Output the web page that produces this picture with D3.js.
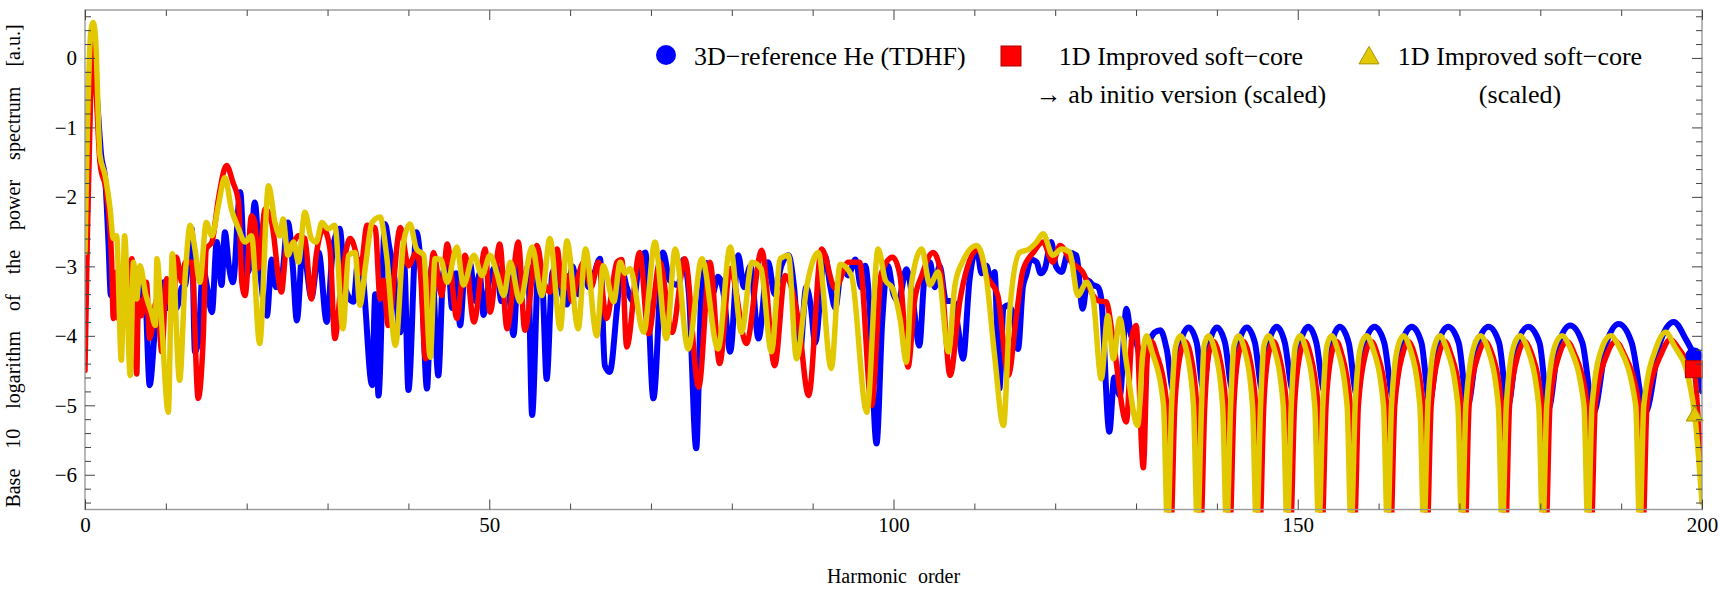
<!DOCTYPE html>
<html><head><meta charset="utf-8">
<script src="https://cdn.jsdelivr.net/npm/d3@7"></script>
<style>
body{margin:0;background:#fff;}
text{font-family:"Liberation Serif","Times New Roman",serif;fill:#000;}
</style>
</head><body>
<svg id="chart" width="1720" height="589"></svg>
<script>
// ---------- data ----------
const xMajorTicks = [0, 50, 100, 150, 200];
const xMinorTicks = [10,20,30,40,60,70,80,90,110,120,130,140,160,170,180,190];
const yMajorTicks = [-6, -5, -4, -3, -2, -1, 0];
const yMinorTicks = [-6.4,-6.2,-5.8,-5.6,-5.4,-5.2,-4.8,-4.6,-4.4,-4.2,-3.8,-3.6,-3.4,-3.2,-2.8,-2.6,-2.4,-2.2,-1.8,-1.6,-1.4,-1.2,-0.8,-0.6,-0.4,-0.2,0.2,0.4,0.6];

const seriesNames = ["3D\u2212reference He (TDHF)", "1D Improved soft\u2212core", "1D Improved soft\u2212core"];
const seriesSubNames = ["", "\u2192 ab initio version (scaled)", "(scaled)"];

// [harmonic order, log10 power]
const blueData = [
[0,-3.6],[0.5,-1.0],[1.0,0.12],[1.5,-0.6],[2.0,-1.4],[2.5,-1.75],[2.9,-2.65],[3.2,-3.42],[3.5,-3.3],[4.0,-3.6],[4.5,-3.03],[5.0,-3.5],[5.4,-3.27],[6.0,-3.6],[6.6,-3.2],[7.0,-3.5],[7.4,-3.37],[8.0,-4.71],[8.7,-3.85],[9.2,-3.5],[9.7,-3.23],[10.2,-3.6],[10.7,-3.25],[11.3,-3.6],[12.0,-3.3],[12.4,-3.27],[13.2,-2.46],[13.6,-4.23],[14.0,-4.1],[14.6,-3.03],[15.1,-3.3],[15.7,-3.66],[16.3,-2.65],[16.9,-3.27],[17.3,-2.51],[17.8,-3.0],[18.3,-3.23],[19.2,-1.93],[19.8,-3.13],[20.4,-3.0],[21.0,-2.08],[21.6,-2.99],[22.5,-3.71],[23.1,-2.9],[23.6,-3.3],[24.3,-3.2],[25.1,-2.37],[25.7,-3.0],[26.2,-3.78],[27.0,-2.6],[27.5,-3.1],[28.0,-3.45],[28.9,-2.8],[29.9,-3.8],[30.7,-2.7],[31.5,-2.46],[32.2,-3.32],[33.2,-3.51],[33.8,-2.9],[34.4,-3.2],[35.5,-4.71],[35.9,-3.4],[36.3,-4.86],[37.1,-2.39],[37.6,-2.7],[38.2,-3.1],[39.0,-3.95],[39.5,-3.0],[40.0,-4.78],[41.0,-2.51],[41.6,-3.1],[42.3,-4.76],[42.9,-3.0],[43.7,-4.57],[44.3,-3.1],[44.9,-2.9],[45.4,-3.6],[45.9,-3.1],[46.4,-3.85],[47.0,-3.0],[47.6,-2.95],[48.3,-3.5],[48.8,-3.1],[49.3,-3.7],[50.0,-3.2],[50.9,-3.0],[51.5,-3.5],[52.2,-3.1],[53.0,-3.99],[53.6,-3.0],[54.2,-3.3],[54.8,-3.0],[55.3,-5.14],[56.1,-2.97],[56.6,-3.3],[57.1,-4.62],[57.8,-3.1],[58.4,-3.0],[59.0,-3.4],[59.6,-3.55],[60.3,-3.0],[61.0,-3.4],[61.7,-3.08],[62.3,-3.3],[63.0,-3.1],[63.7,-2.89],[64.3,-4.43],[64.9,-4.52],[65.8,-3.6],[66.3,-3.0],[67.0,-3.3],[67.8,-3.5],[68.5,-3.0],[69.3,-2.8],[70.3,-4.9],[71.5,-2.8],[72.3,-3.2],[73.4,-3.27],[74.0,-2.9],[74.7,-3.4],[75.6,-5.62],[76.2,-3.5],[76.9,-2.95],[77.6,-3.4],[78.3,-3.15],[79.0,-3.4],[79.8,-4.23],[80.8,-2.84],[81.5,-3.3],[82.3,-3.0],[83.3,-4.04],[84.5,-2.94],[85.3,-3.4],[86.1,-3.0],[87.0,-2.84],[87.7,-3.3],[88.4,-4.28],[89.2,-3.3],[89.8,-3.6],[90.3,-4.1],[91.5,-2.84],[92.2,-3.3],[92.8,-3.6],[93.6,-3.0],[94.4,-3.13],[95.3,-2.9],[96.0,-3.3],[96.5,-2.99],[97.0,-3.5],[97.9,-5.55],[98.6,-3.8],[99.3,-2.99],[100.0,-3.4],[100.6,-3.5],[101.6,-3.04],[102.4,-3.5],[103.2,-4.14],[103.8,-3.2],[104.5,-2.94],[105.1,-3.3],[105.7,-2.99],[106.5,-3.5],[107.4,-3.5],[108.0,-3.9],[108.6,-4.33],[109.4,-3.2],[110.3,-2.75],[110.9,-3.1],[111.5,-2.99],[112.0,-3.2],[112.5,-3.08],[113.1,-4.76],[113.6,-3.6],[114.2,-3.56],[114.8,-3.7],[115.4,-4.19],[116.0,-3.3],[116.4,-3.13],[117.0,-2.9],[117.7,-2.94],[118.2,-3.1],[118.7,-3.04],[119.5,-2.65],[120.1,-3.0],[120.8,-3.08],[121.6,-2.8],[122.6,-2.84],[123.4,-3.61],[124.0,-3.2],[124.7,-3.27],[125.3,-3.3],[125.7,-3.47],[126.7,-5.38],[127.3,-4.6],[128.0,-4.86],[128.8,-3.61],[129.4,-4.0],[130.0,-4.09],[130.6,-4.3],
[131.5,-4.1],[132.3,-3.95],[133.0,-3.92],[133.8,-4.2],[134.6,-4.78],[135.4,-4.15],[136.5,-3.88],[137.5,-4.1],[138.3,-4.75],[139.1,-4.1],[140.0,-3.88],[141.0,-4.1],[141.9,-4.76],[142.7,-4.1],[143.7,-3.88],[144.7,-4.1],[145.6,-4.77],[146.4,-4.1],[147.4,-3.87],[148.4,-4.1],[149.4,-4.78],[150.3,-4.1],[151.3,-3.87],[152.3,-4.1],[153.3,-4.8],[154.2,-4.1],[155.2,-3.87],[156.3,-4.1],[157.3,-4.85],[158.3,-4.1],[159.5,-3.87],[160.7,-4.1],[161.8,-4.9],[162.9,-4.1],[164.1,-3.87],[165.3,-4.1],[166.3,-4.95],[167.4,-4.1],[168.6,-3.87],[169.9,-4.1],[171.0,-5.0],[172.3,-4.1],[173.6,-3.87],[174.9,-4.1],[176.0,-5.0],[177.2,-4.1],[178.5,-3.87],[179.9,-4.1],[181.0,-5.05],[182.3,-4.1],[183.7,-3.85],[185.2,-4.1],[186.6,-5.1],[188.2,-4.1],[189.7,-3.83],[191.3,-4.1],[193.0,-5.1],[194.8,-4.1],[196.5,-3.8],[198.0,-4.05],[199.0,-4.29],[200,-4.8]
];

const redData = [
[0,-4.5],[0.3,-2.5],[0.7,-0.5],[1.0,0.2],[1.3,-0.3],[1.85,-1.5],[2.7,-1.98],[3.3,-2.94],[3.5,-3.75],[3.9,-3.08],[4.1,-3.75],[4.6,-3.3],[5.0,-3.6],[5.8,-2.89],[6.4,-4.55],[6.6,-3.47],[7.0,-3.71],[7.6,-3.23],[8.0,-4.04],[8.9,-3.47],[9.5,-4.23],[10.1,-3.18],[10.9,-3.75],[11.3,-2.87],[12.0,-3.23],[12.4,-2.94],[13.2,-2.94],[14.0,-4.9],[14.6,-4.09],[15.0,-2.75],[15.7,-2.65],[16.5,-2.03],[17.5,-1.55],[18.3,-1.79],[19.0,-2.08],[19.4,-3.23],[19.8,-3.42],[20.6,-2.27],[21.0,-2.37],[21.4,-3.03],[22.3,-2.17],[23.1,-2.37],[24.3,-3.37],[24.9,-2.75],[25.8,-2.65],[26.4,-2.56],[27.2,-2.6],[28.0,-3.47],[28.6,-2.84],[29.5,-2.46],[30.3,-2.75],[30.9,-4.04],[31.7,-3.23],[32.8,-2.6],[33.5,-2.8],[34.0,-3.1],[34.9,-2.41],[35.9,-2.45],[36.5,-3.47],[36.9,-3.2],[37.5,-3.85],[39.0,-2.44],[40.0,-2.99],[41.0,-2.8],[41.5,-3.1],[42.1,-4.33],[43.1,-2.8],[44.1,-3.42],[44.8,-2.68],[46.0,-3.75],[47.0,-2.84],[48.1,-3.8],[49.5,-2.75],[50.1,-3.66],[51.3,-2.68],[52.2,-3.9],[53.6,-2.65],[54.4,-3.92],[55.9,-2.7],[56.7,-3.2],[57.5,-3.37],[58.4,-2.75],[59.0,-3.3],[59.6,-3.13],[60.2,-3.5],[60.8,-3.23],[61.7,-2.94],[62.6,-3.3],[63.5,-2.94],[64.5,-3.75],[65.8,-2.94],[66.4,-2.9],[67.0,-4.16],[68.6,-2.8],[69.7,-3.97],[71.1,-2.94],[72.6,-3.95],[74.2,-2.89],[75.9,-4.74],[77.3,-2.94],[78.5,-4.4],[79.8,-3.03],[81.8,-4.11],[83.7,-2.77],[85.3,-4.43],[86.6,-3.13],[88.2,-3.75],[89.5,-4.86],[91.1,-2.75],[92.8,-3.32],[94.4,-2.94],[95.8,-2.94],[97.3,-5.0],[98.5,-3.1],[99.9,-2.87],[100.8,-3.13],[101.8,-4.45],[102.6,-3.5],[103.5,-3.13],[104.9,-2.8],[105.9,-3.13],[107.0,-4.57],[108.2,-3.5],[109.2,-2.99],[110.5,-2.75],[111.5,-3.13],[112.9,-3.42],[114.2,-4.57],[115.2,-3.71],[116.0,-3.06],[117.3,-2.8],[118.5,-2.65],[119.7,-2.94],[120.6,-2.7],[122.0,-2.94],[123.4,-3.08],[124.7,-3.42],[125.5,-3.5],[126.3,-3.51],[127.2,-4.09],[128.8,-5.24],[129.5,-4.0],[130.0,-3.85],[130.9,-5.9],
[131.4,-4.3],[131.9,-4.08],[132.5,-4.25],[133.8,-5.0],[134.3,-6.8],[134.8,-5.0],[135.5,-4.25],[136.1,-4.08],[136.7,-4.25],[137.5,-5.0],[138.0,-6.8],[138.5,-5.0],[139.0,-4.25],[139.6,-4.08],[140.2,-4.25],[141.1,-5.0],[141.6,-6.8],[142.1,-5.0],[142.7,-4.25],[143.3,-4.08],[143.9,-4.25],[144.8,-5.0],[145.3,-6.8],[145.8,-5.0],[146.4,-4.25],[147.0,-4.08],[147.6,-4.25],[148.6,-5.0],[149.1,-6.8],[149.6,-5.0],[150.3,-4.25],[150.9,-4.08],[151.5,-4.25],[152.5,-5.0],[153.0,-6.8],[153.5,-5.0],[154.2,-4.25],[154.8,-4.08],[155.4,-4.25],[156.5,-5.0],[157.0,-6.8],[157.5,-5.0],[158.4,-4.25],[159.1,-4.08],[159.8,-4.25],[161.0,-5.0],[161.5,-6.8],[162.0,-5.0],[163.0,-4.25],[163.7,-4.08],[164.4,-4.25],[165.5,-5.0],[166.0,-6.8],[166.5,-5.0],[167.5,-4.25],[168.2,-4.08],[168.9,-4.25],[170.2,-5.0],[170.7,-6.8],[171.2,-5.0],[172.4,-4.25],[173.2,-4.08],[174.0,-4.25],[175.2,-5.0],[175.7,-6.8],[176.2,-5.0],[177.3,-4.25],[178.1,-4.08],[178.9,-4.25],[180.2,-5.0],[180.7,-6.8],[181.2,-5.0],[182.4,-4.25],[183.3,-4.08],[184.2,-4.25],[185.8,-5.0],[186.3,-6.8],[186.8,-5.0],[188.3,-4.25],[189.3,-4.08],[190.3,-4.25],[192.2,-5.0],[192.7,-6.8],[193.2,-5.0],[195.0,-4.25],[196.1,-4.05],[197.2,-4.2],[198.3,-4.38],[199.0,-4.48],[200,-6.3]
];

const yellowData = [
[0,-2.8],[0.3,-1.0],[0.7,0.35],[1.0,0.51],[1.3,0.3],[1.85,-1.4],[2.5,-1.7],[3.1,-2.17],[3.5,-2.6],[3.9,-2.56],[4.5,-4.35],[4.9,-2.56],[5.6,-4.57],[6.0,-2.94],[6.4,-3.47],[6.8,-2.99],[7.5,-3.4],[8.2,-3.66],[8.7,-3.85],[8.9,-2.89],[9.5,-3.85],[10.3,-5.1],[10.8,-2.82],[11.7,-4.64],[12.4,-3.13],[13.0,-2.41],[13.6,-2.75],[14.2,-3.23],[15.0,-2.37],[15.7,-2.56],[16.5,-2.12],[17.3,-1.72],[18.1,-2.17],[19.0,-2.46],[19.8,-2.65],[20.6,-2.56],[21.6,-4.11],[22.7,-1.84],[23.5,-2.37],[24.1,-2.56],[24.5,-2.32],[25.1,-2.84],[25.8,-2.65],[26.4,-2.94],[27.2,-2.22],[28.0,-2.6],[28.6,-2.65],[29.3,-2.37],[30.1,-2.46],[30.9,-2.41],[31.9,-3.9],[32.6,-2.84],[33.4,-2.8],[34.0,-3.56],[34.7,-2.99],[35.5,-2.37],[36.5,-2.29],[37.3,-2.84],[38.4,-4.14],[39.4,-2.65],[40.2,-2.39],[41.0,-2.75],[41.9,-2.84],[42.7,-4.31],[43.3,-2.89],[44.0,-2.9],[44.8,-3.23],[46.0,-2.72],[46.8,-3.27],[48.1,-2.84],[49.1,-3.13],[50.1,-2.84],[50.9,-3.08],[51.8,-3.42],[52.6,-2.94],[53.8,-3.51],[55.3,-2.72],[56.5,-3.42],[57.5,-2.6],[58.8,-3.9],[59.6,-2.63],[61.0,-3.9],[61.9,-2.75],[63.3,-4.0],[64.1,-2.99],[65.4,-3.51],[66.2,-2.94],[66.8,-3.1],[67.4,-3.03],[69.1,-3.95],[70.5,-2.65],[71.9,-4.04],[73.0,-2.75],[74.6,-4.19],[76.3,-2.89],[78.3,-4.19],[79.8,-2.72],[81.2,-3.95],[82.5,-2.94],[83.6,-3.03],[84.9,-4.23],[86.0,-2.89],[87.0,-2.84],[88.0,-4.33],[89.3,-3.27],[90.7,-2.8],[92.3,-4.47],[93.4,-2.97],[94.8,-3.13],[96.7,-5.1],[98.1,-2.75],[99.0,-3.2],[99.9,-3.32],[100.8,-3.75],[101.6,-4.38],[102.2,-3.27],[103.5,-2.75],[104.5,-3.27],[105.5,-3.08],[106.8,-4.23],[107.6,-3.27],[108.6,-2.92],[110.3,-2.7],[111.5,-3.18],[112.5,-4.28],[113.6,-5.29],[114.4,-3.61],[115.6,-2.8],[116.8,-2.75],[117.7,-2.65],[118.5,-2.53],[119.7,-2.84],[120.8,-2.75],[121.8,-2.8],[122.8,-3.42],[123.9,-3.23],[124.7,-3.47],[125.7,-4.62],[126.5,-3.71],[127.2,-4.33],[128.0,-3.75],[128.8,-4.38],[130.2,-5.29],
[130.8,-4.3],[131.3,-4.0],[131.9,-4.2],[133.4,-5.0],[133.9,-6.8],[134.4,-5.0],[134.9,-4.15],[135.5,-4.0],[136.1,-4.15],[137.1,-5.0],[137.6,-6.8],[138.1,-5.0],[138.4,-4.15],[139.0,-4.0],[139.6,-4.15],[140.7,-5.0],[141.2,-6.8],[141.7,-5.0],[142.1,-4.15],[142.7,-4.0],[143.3,-4.15],[144.4,-5.0],[144.9,-6.8],[145.4,-5.0],[145.8,-4.15],[146.4,-4.0],[147.0,-4.15],[148.2,-5.0],[148.7,-6.8],[149.2,-5.0],[149.7,-4.15],[150.3,-4.0],[150.9,-4.15],[152.1,-5.0],[152.6,-6.8],[153.1,-5.0],[153.6,-4.15],[154.2,-4.0],[154.8,-4.15],[156.1,-5.0],[156.6,-6.8],[157.1,-5.0],[157.8,-4.15],[158.5,-4.0],[159.2,-4.15],[160.6,-5.0],[161.1,-6.8],[161.6,-5.0],[162.4,-4.15],[163.1,-4.0],[163.8,-4.15],[165.1,-5.0],[165.6,-6.8],[166.1,-5.0],[166.9,-4.15],[167.6,-4.0],[168.3,-4.15],[169.8,-5.0],[170.3,-6.8],[170.8,-5.0],[171.8,-4.15],[172.6,-4.0],[173.4,-4.15],[174.8,-5.0],[175.3,-6.8],[175.8,-5.0],[176.7,-4.15],[177.5,-4.0],[178.3,-4.15],[179.8,-5.0],[180.3,-6.8],[180.8,-5.0],[181.8,-4.15],[182.7,-4.0],[183.6,-4.15],[185.4,-5.0],[185.9,-6.8],[186.4,-5.0],[187.7,-4.15],[188.7,-4.0],[189.7,-4.15],[191.8,-5.0],[192.3,-6.8],[192.8,-5.0],[194.4,-4.15],[195.5,-3.95],[196.6,-4.15],[198.3,-4.6],[199.1,-5.13],[200,-6.4]
];

// markers drawn at the end of each curve (harmonic, value)
const endMarkers = [[199.0,-4.29],[199.0,-4.48],[199.1,-5.13]];

// ---------- drawing ----------
const svg = d3.select("#chart");
const L = 85, R = 1702, T = 10, B = 509.5;
const x = d3.scaleLinear().domain([0, 200]).range([L, R]);
const y = d3.scaleLinear().domain([-6.5, 0.69]).range([B, T]);

const colors = ["#0000ff", "#ff0000", "#e2c800"];
const strokes = ["#0000c0", "#b00000", "#a89400"];
const widths = [6, 5.5, 5.5];
const allData = [blueData, redData, yellowData];

svg.append("defs").append("clipPath").attr("id", "plotclip")
  .append("rect").attr("x", L).attr("y", T).attr("width", R - L).attr("height", B - T + 3);

const line = d3.line().x(d => x(d[0])).y(d => y(d[1])).curve(d3.curveMonotoneX);
const plot = svg.append("g").attr("clip-path", "url(#plotclip)");
allData.forEach((data, i) => {
  plot.append("path").attr("d", line(data)).attr("fill", "none")
    .attr("stroke", colors[i]).attr("stroke-width", widths[i])
    .attr("stroke-linejoin", "round").attr("stroke-linecap", "round");
});

// markers
function drawMarker(g, i, cx, cy, s) {
  if (i === 0) {
    g.append("circle").attr("cx", cx).attr("cy", cy).attr("r", s).attr("fill", colors[0]);
  } else if (i === 1) {
    g.append("rect").attr("x", cx - s).attr("y", cy - s).attr("width", 2 * s).attr("height", 2 * s)
      .attr("fill", colors[1]).attr("stroke", strokes[1]).attr("stroke-width", 1);
  } else {
    const h = s * 1.75;
    g.append("path").attr("d", `M${cx},${cy - h * 0.55}L${cx + s},${cy + h * 0.45}L${cx - s},${cy + h * 0.45}Z`)
      .attr("fill", colors[2]).attr("stroke", strokes[2]).attr("stroke-width", 1);
  }
}
const mk = svg.append("g");
endMarkers.forEach((m, i) => drawMarker(mk, i, x(m[0]), y(m[1]), 8.5));

// frame
svg.append("rect").attr("x", L).attr("y", T).attr("width", R - L).attr("height", B - T)
  .attr("fill", "none").attr("stroke", "#999").attr("stroke-width", 1.4);

// axes
function styleAxis(g) {
  g.select(".domain").remove();
  g.selectAll(".tick line").attr("stroke", "#444").attr("stroke-width", 1);
  g.selectAll(".tick text").style("font-size", "21px").attr("fill", "#000");
}
const fmt = d3.format("d");
svg.append("g").attr("transform", `translate(0,${B})`)
  .call(d3.axisBottom(x).tickValues(xMajorTicks).tickSize(-10).tickPadding(8).tickFormat(fmt)).call(styleAxis);
svg.append("g").attr("transform", `translate(0,${B})`)
  .call(d3.axisBottom(x).tickValues(xMinorTicks).tickSize(-6).tickFormat("")).call(styleAxis);
svg.append("g").attr("transform", `translate(0,${T})`)
  .call(d3.axisTop(x).tickValues(xMajorTicks).tickSize(-10).tickFormat("")).call(styleAxis);
svg.append("g").attr("transform", `translate(0,${T})`)
  .call(d3.axisTop(x).tickValues(xMinorTicks).tickSize(-6).tickFormat("")).call(styleAxis);
svg.append("g").attr("transform", `translate(${L},0)`)
  .call(d3.axisLeft(y).tickValues(yMajorTicks).tickSize(-10).tickPadding(8).tickFormat(fmt)).call(styleAxis);
svg.append("g").attr("transform", `translate(${L},0)`)
  .call(d3.axisLeft(y).tickValues(yMinorTicks).tickSize(-6).tickFormat("")).call(styleAxis);
svg.append("g").attr("transform", `translate(${R},0)`)
  .call(d3.axisRight(y).tickValues(yMajorTicks).tickSize(-10).tickFormat("")).call(styleAxis);
svg.append("g").attr("transform", `translate(${R},0)`)
  .call(d3.axisRight(y).tickValues(yMinorTicks).tickSize(-6).tickFormat("")).call(styleAxis);

// axis titles
svg.append("text").attr("x", (L + R) / 2).attr("y", 583).attr("text-anchor", "middle")
  .style("font-size", "20px").style("word-spacing", "6px").text("Harmonic order");
svg.append("text").attr("transform", "translate(20,266) rotate(-90)").attr("text-anchor", "middle")
  .style("font-size", "20px").style("word-spacing", "15px").style("white-space", "pre")
  .text("Base 10 logarithm of the power spectrum [a.u.]");

// legend
const lg = svg.append("g").style("font-size", "26px");
drawMarker(lg, 0, 666, 55, 10);
lg.append("text").attr("x", 694).attr("y", 65).text(seriesNames[0]);
drawMarker(lg, 1, 1011, 56, 10);
lg.append("text").attr("x", 1181).attr("y", 65).attr("text-anchor", "middle").text(seriesNames[1]);
lg.append("text").attr("x", 1181).attr("y", 103).attr("text-anchor", "middle").text(seriesSubNames[1]);
drawMarker(lg, 2, 1369, 56, 10);
lg.append("text").attr("x", 1520).attr("y", 65).attr("text-anchor", "middle").text(seriesNames[2]);
lg.append("text").attr("x", 1520).attr("y", 103).attr("text-anchor", "middle").text(seriesSubNames[2]);
</script>
</body></html>
